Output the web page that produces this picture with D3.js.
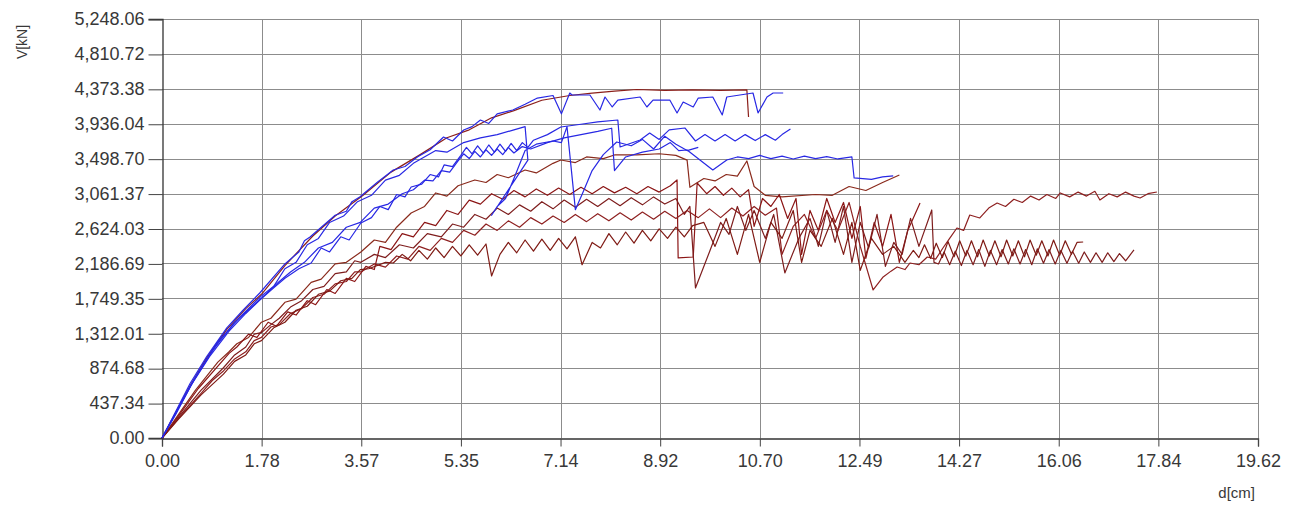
<!DOCTYPE html>
<html><head><meta charset="utf-8">
<script src="https://cdn.jsdelivr.net/npm/d3@7"></script>
<style>body{margin:0;background:#fff}</style>
</head><body><svg id="c" width="1300" height="506"></svg>
<script>
const xTicks = [0,1.7836,3.5673,5.3509,7.1345,8.9182,10.7018,12.4855,14.2691,16.0527,17.8364,19.62];
const xTickLabels = ["0.00","1.78","3.57","5.35","7.14","8.92","10.70","12.49","14.27","16.06","17.84","19.62"];
const yTicks = [0,437.34,874.68,1312.01,1749.35,2186.69,2624.03,3061.37,3498.70,3936.04,4373.38,4810.72,5248.06];
const yTickLabels = ["0.00","437.34","874.68","1,312.01","1,749.35","2,186.69","2,624.03","3,061.37","3,498.70","3,936.04","4,373.38","4,810.72","5,248.06"];
const xTitle = "d[cm]";
const yTitle = "V[kN]";

// blue curves [d (cm), V (kN)]
const blue1 = [[0,0],[0.2,270],[0.5,680],[0.8,1020],[1.16,1380],[1.45,1600],[1.75,1816],[2.2,2180],[2.45,2330],[2.55,2470],[2.65,2517],[3.1,2790],[3.3,2840],[3.4,2960],[3.54,3018],[3.85,3200],[4.14,3357],[4.35,3400],[4.57,3520],[4.8,3610],[5.04,3770],[5.2,3720],[5.4,3858],[5.55,3900],[5.7,3983],[5.85,3940],[6.0,4060],[6.28,4108],[6.5,4180],[6.72,4258],[7.0,4290],[7.15,4060],[7.3,4321],[7.34,4296],[7.66,4296],[7.84,4108],[7.93,4271],[8.06,4146],[8.16,4233],[8.56,4271],[8.68,4146],[8.79,4233],[9.09,4233],[9.22,4071],[9.33,4208],[9.51,4146],[9.6,4258],[9.86,4271],[10.03,4046],[10.11,4271],[10.58,4321],[10.67,4071],[10.83,4271],[10.94,4321],[11.12,4321]];
const blue2 = [[0,0],[0.2,250],[0.5,640],[0.85,1020],[1.2,1340],[1.5,1560],[1.75,1728],[2.0,1880],[2.2,2000],[2.45,2120],[2.67,2192],[2.85,2380],[3.0,2330],[3.2,2520],[3.35,2480],[3.56,2693],[3.75,2760],[3.9,2900],[4.05,2860],[4.2,3050],[4.35,3020],[4.46,3144],[4.65,3180],[4.8,3300],[4.95,3270],[5.05,3420],[5.2,3400],[5.35,3540],[5.45,3640],[5.55,3560],[5.65,3660],[5.75,3570],[5.85,3670],[5.95,3580],[6.05,3680],[6.15,3590],[6.25,3690],[6.35,3600],[6.45,3700],[6.55,3640],[6.65,3730],[6.9,3800],[7.14,3895],[7.5,3930],[7.8,3960],[8.16,3983],[8.2,3645],[8.56,3732],[8.73,3820],[8.9,3740],[9.08,3860],[9.36,3883],[9.55,3720],[9.72,3800],[9.9,3720],[10.08,3800],[10.26,3720],[10.44,3800],[10.62,3725],[10.8,3800],[10.98,3730],[11.1,3800],[11.25,3870]];
const blue3 = [[0,0],[0.25,300],[0.55,700],[0.9,1090],[1.3,1450],[1.78,1750],[2.1,1960],[2.3,2080],[2.55,2200],[2.8,2380],[3.05,2450],[3.3,2640],[3.55,2700],[3.8,2880],[4.05,2930],[4.3,3060],[4.5,3110],[4.7,3230],[4.85,3220],[5.0,3350],[5.15,3330],[5.3,3470],[5.4,3560],[5.5,3500],[5.6,3590],[5.7,3520],[5.8,3610],[5.9,3540],[6.0,3620],[6.1,3550],[6.2,3640],[6.3,3570],[6.45,3650],[6.6,3620],[6.9,3700],[7.2,3760],[7.5,3800],[7.8,3840],[8.05,3880],[8.1,3350],[8.3,3520],[8.6,3580],[8.9,3620],[9.1,3700],[9.25,3600],[9.4,3607],[9.86,3357],[10.11,3482],[10.3,3520],[10.5,3500],[10.7,3540],[10.9,3500],[11.1,3530],[11.3,3495],[11.5,3530],[11.7,3500],[11.9,3525],[12.1,3495],[12.35,3520],[12.39,3257],[12.7,3240],[12.9,3270],[13.09,3282]];
const blue4 = [[0,0],[0.3,380],[0.6,760],[1.0,1200],[1.4,1520],[1.78,1780],[2.0,1900],[2.2,2120],[2.4,2200],[2.6,2420],[2.8,2500],[3.0,2700],[3.25,2780],[3.5,2960],[3.75,3040],[4.0,3230],[4.25,3290],[4.5,3440],[4.9,3600],[5.1,3580],[5.4,3700],[5.7,3760],[6.0,3800],[6.3,3860],[6.5,3900],[6.55,3480],[5.9,2790],[6.0,2900],[6.15,3000],[6.3,3250],[6.5,3600],[6.7,3680],[7.0,3720],[7.15,3700],[7.25,3900],[7.4,2860],[7.55,3100],[7.7,3350],[7.9,3550],[8.14,3707],[8.4,3660],[8.6,3740],[8.8,3620],[9.0,3780],[9.2,3680],[9.4,3600],[9.6,3640]];

// red curves
const red1 = [[0,0],[0.2,260],[0.5,650],[0.8,1000],[1.16,1360],[1.5,1620],[1.78,1800],[2.2,2160],[2.7,2530],[3.1,2780],[3.6,3040],[4.1,3330],[4.6,3540],[5.1,3760],[5.5,3860],[5.9,4010],[6.3,4100],[6.8,4230],[7.3,4290],[7.7,4320],[8.1,4345],[8.5,4365],[9.0,4355],[9.5,4360],[10.0,4355],[10.47,4360],[10.5,4020]];
const red2 = [[0,0],[0.3,300],[0.6,600],[1.0,950],[1.2,1080],[1.34,1180],[1.55,1260],[1.78,1450],[1.95,1500],[2.2,1700],[2.4,1740],[2.67,1950],[2.85,1990],[3.1,2180],[3.3,2200],[3.56,2330],[3.8,2480],[4.0,2450],[4.2,2640],[4.46,2818],[4.7,2900],[4.9,3069],[5.1,3030],[5.3,3160],[5.6,3232],[5.8,3200],[6.0,3300],[6.2,3260],[6.5,3357],[6.7,3320],[7.0,3440],[7.14,3482],[7.4,3450],[7.6,3520],[7.9,3500],[8.1,3545],[8.5,3545],[8.9,3560],[9.2,3540],[9.4,3480],[9.45,3140],[9.7,3250],[9.9,3220],[10.1,3300],[10.3,3280],[10.47,3470],[10.6,3150],[10.8,3040],[11.1,3020],[11.7,3050],[12.0,3040],[12.3,3150],[12.6,3100],[12.9,3200],[13.2,3294]];
const red3 = [[0,0],[0.3,280],[0.65,620],[1.0,900],[1.2,1060],[1.34,1140],[1.55,1300],[1.7,1260],[1.9,1450],[2.05,1400],[2.25,1580],[2.4,1540],[2.6,1720],[2.75,1670],[2.95,1860],[3.1,1810],[3.3,2000],[3.45,1960],[3.65,2150],[3.8,2110],[3.9,2400],[4.1,2360],[4.3,2560],[4.5,2520],[4.7,2700],[4.9,2660],[5.1,2850],[5.3,2800],[5.5,2980],[5.7,2930],[5.9,3060],[6.1,2990],[6.3,3100],[6.5,3020],[6.7,3120],[6.9,3040],[7.1,3130],[7.3,3050],[7.5,3140],[7.7,3060],[7.9,3150],[8.1,3070],[8.3,3140],[8.5,3060],[8.7,3150],[8.9,3080],[9.1,3160],[9.22,3232],[9.24,2255],[9.51,2267],[9.58,3194],[9.75,3060],[9.9,3150],[10.05,3040],[10.2,3130],[10.35,3020],[10.5,3110],[10.6,2650],[10.75,3000],[10.9,2900],[11.05,3050],[11.2,2750],[11.35,3000],[11.45,2300],[11.6,2850],[11.75,2600],[11.9,3000],[12.05,2700],[12.2,2950],[12.35,2500],[12.5,2900],[12.6,2250],[12.75,2700],[12.9,2400],[13.05,2800],[13.2,2200],[13.35,2600],[13.57,2943]];
const red4 = [[0,0],[0.3,260],[0.7,600],[1.1,880],[1.3,1040],[1.5,1140],[1.65,1300],[1.78,1320],[1.95,1420],[2.1,1500],[2.3,1640],[2.5,1720],[2.7,1860],[2.9,1900],[3.1,2060],[3.3,2080],[3.45,2220],[3.56,2200],[3.8,2300],[4.0,2260],[4.25,2420],[4.5,2380],[4.75,2560],[5.0,2520],[5.2,2680],[5.4,2640],[5.6,2800],[5.8,2740],[6.0,2880],[6.2,2800],[6.4,2920],[6.6,2840],[6.8,2960],[7.0,2870],[7.2,2980],[7.4,2890],[7.6,2990],[7.8,2900],[8.0,3000],[8.2,2910],[8.4,3010],[8.6,2920],[8.8,3020],[9.0,2930],[9.2,3000],[9.35,2800],[9.45,2900],[9.55,1879],[9.8,2330],[10.0,2700],[10.15,2550],[10.3,2900],[10.45,2600],[10.6,2850],[10.8,2500],[10.95,2800],[11.15,2067],[11.4,2500],[11.6,2750],[11.75,2400],[11.9,2850],[12.05,2450],[12.2,2900],[12.35,2200],[12.5,2700],[12.65,2380],[12.8,2800],[12.95,2150],[13.1,2450],[13.25,2300],[13.4,2750],[13.55,2400],[13.78,2856],[13.82,2200],[13.9,2180],[14.0,2330],[14.1,2170],[14.2,2340],[14.31,2160],[14.41,2350],[14.52,2170],[14.62,2360],[14.73,2150],[14.83,2350],[14.94,2170],[15.04,2360],[15.15,2180],[15.25,2370],[15.36,2180],[15.46,2360],[15.57,2170],[15.67,2370],[15.78,2190],[15.88,2360],[15.99,2180],[16.09,2350],[16.2,2190],[16.3,2340],[16.41,2190],[16.51,2330],[16.62,2200],[16.72,2320],[16.83,2200],[16.93,2320],[17.04,2210],[17.14,2310],[17.25,2220],[17.4,2355]];
const red5 = [[0,0],[0.3,250],[0.7,560],[0.9,720],[1.1,840],[1.3,990],[1.5,1080],[1.65,1220],[1.78,1260],[1.95,1390],[2.1,1420],[2.3,1560],[2.5,1620],[2.7,1760],[2.9,1800],[3.1,1930],[3.3,1960],[3.45,2080],[3.56,2080],[3.8,2180],[4.0,2140],[4.2,2280],[4.4,2240],[4.6,2400],[4.8,2350],[5.0,2500],[5.2,2450],[5.4,2600],[5.6,2540],[5.8,2680],[6.0,2600],[6.2,2720],[6.4,2640],[6.6,2760],[6.8,2680],[7.0,2780],[7.2,2700],[7.4,2800],[7.6,2710],[7.8,2810],[8.0,2720],[8.2,2820],[8.4,2730],[8.6,2830],[8.8,2740],[9.0,2840],[9.2,2750],[9.4,2850],[9.6,2760],[9.8,2870],[10.0,2760],[10.2,2880],[10.4,2780],[10.6,2900],[10.8,2790],[11.0,2880],[11.1,2300],[11.3,2650],[11.5,2800],[11.7,2500],[11.9,2850],[12.1,2600],[12.3,2950],[12.5,2400],[12.73,1854],[12.91,2017],[13.05,2090],[13.16,2142],[13.3,2110],[13.39,2192],[13.55,2170],[13.7,2267],[13.85,2240],[13.98,2380],[14.1,2500],[14.23,2630],[14.35,2600],[14.46,2793],[14.64,2756],[14.8,2880],[14.95,2943],[15.1,2900],[15.25,2990],[15.4,2950],[15.55,3030],[15.7,2980],[15.84,3050],[16.0,3000],[16.08,3069],[16.25,3020],[16.4,3080],[16.55,3030],[16.7,3090],[16.79,2981],[16.95,3060],[17.1,3020],[17.25,3080],[17.4,3030],[17.51,3006],[17.65,3060],[17.81,3081]];
const red6 = [[0,0],[0.3,240],[0.7,540],[1.1,800],[1.3,960],[1.5,1040],[1.65,1180],[1.78,1220],[2.0,1380],[2.2,1450],[2.4,1600],[2.6,1650],[2.8,1800],[3.0,1840],[3.2,1970],[3.4,2000],[3.55,2110],[3.7,2120],[4.0,2200],[4.14,2192],[4.3,2300],[4.45,2220],[4.6,2350],[4.75,2240],[4.9,2380],[5.05,2260],[5.2,2400],[5.35,2280],[5.5,2420],[5.65,2290],[5.8,2430],[5.9,2030],[6.05,2300],[6.2,2450],[6.35,2320],[6.5,2480],[6.65,2340],[6.8,2490],[6.95,2350],[7.1,2500],[7.25,2370],[7.4,2520],[7.52,2170],[7.7,2450],[7.85,2380],[8.0,2560],[8.15,2420],[8.3,2580],[8.45,2440],[8.6,2600],[8.75,2470],[8.9,2620],[9.05,2500],[9.2,2640],[9.35,2520],[9.5,2660],[9.7,2700],[9.9,2400],[10.1,2750],[10.3,2300],[10.5,2800],[10.7,2200],[10.9,2700],[11.1,2500],[11.3,2850],[11.45,2200],[11.6,2600],[11.8,2400],[12.0,2750],[12.2,2300],[12.35,2700],[12.5,2100],[12.7,2500],[12.9,2300],[13.1,2400],[13.3,2200],[13.45,2350],[13.55,2260],[13.65,2420],[13.76,2250],[13.86,2440],[13.97,2260],[14.07,2460],[14.18,2270],[14.28,2470],[14.39,2280],[14.49,2470],[14.6,2270],[14.7,2480],[14.81,2280],[14.91,2470],[15.02,2270],[15.12,2480],[15.23,2280],[15.33,2470],[15.44,2270],[15.54,2480],[15.65,2290],[15.75,2470],[15.86,2280],[15.96,2480],[16.07,2290],[16.17,2470],[16.28,2300],[16.38,2450],[16.49,2455]];

const blueSeries = [blue1, blue2, blue3, blue4];
const redSeries = [red1, red2, red3, red4, red5, red6];

const m = {left:162, right:1258, top:19, bottom:438};
const svg = d3.select("#c");
const x = d3.scaleLinear().domain([0, 19.62]).range([m.left, m.right]);
const y = d3.scaleLinear().domain([0, 5248.06]).range([m.bottom, m.top]);

const gridColor = "#8c8c8c";
const g = svg.append("g");
g.selectAll(".vg").data(xTicks.slice(1)).join("line")
  .attr("x1", d => Math.round(x(d)) + 0.5).attr("x2", d => Math.round(x(d)) + 0.5)
  .attr("y1", m.top).attr("y2", m.bottom)
  .attr("stroke", gridColor).attr("stroke-width", 1);
g.selectAll(".hg").data(yTicks.slice(1)).join("line")
  .attr("y1", d => Math.round(y(d)) + 0.5).attr("y2", d => Math.round(y(d)) + 0.5)
  .attr("x1", m.left).attr("x2", m.right)
  .attr("stroke", gridColor).attr("stroke-width", 1);

const fmtX = d => xTickLabels[xTicks.indexOf(d)];
const fmtY = d => yTickLabels[yTicks.indexOf(d)];
const xAxis = d3.axisBottom(x).tickValues(xTicks).tickFormat(fmtX).tickSize(8).tickPadding(8);
const yAxis = d3.axisLeft(y).tickValues(yTicks).tickFormat(fmtY).tickSize(14).tickPadding(4);
const ax = svg.append("g").attr("transform", `translate(0,${m.bottom + 0.5})`).call(xAxis);
const ay = svg.append("g").attr("transform", `translate(${m.left + 0.5},0)`).call(yAxis);
[ax, ay].forEach(a => {
  a.select(".domain").attr("stroke", "#333").attr("stroke-width", 1.3);
  a.selectAll(".tick line").attr("stroke", "#444");
  a.selectAll(".tick text").attr("fill", "#383838").attr("font-family", "Liberation Sans, Arial, sans-serif").attr("font-size", 18);
});
ay.selectAll(".tick line").attr("transform", "translate(0,0.5)");

const line = d3.line().x(d => x(d[0])).y(d => y(d[1]));
const redColors = ["#8b1f1a", "#8a2a1c", "#8b1515", "#7e1d1d", "#8e2020", "#7f1a14"];
svg.append("g").selectAll("path").data(redSeries).join("path")
  .attr("d", line).attr("fill", "none")
  .attr("stroke", (d, i) => redColors[i]).attr("stroke-width", 1.2).attr("stroke-linejoin", "round");
svg.append("g").selectAll("path").data(blueSeries).join("path")
  .attr("d", line).attr("fill", "none")
  .attr("stroke", "#2828e4").attr("stroke-width", 1.2).attr("stroke-linejoin", "round");

svg.append("text").attr("transform", "translate(27,42) rotate(-90)")
  .attr("text-anchor", "middle").attr("fill", "#383838")
  .attr("font-family", "Liberation Sans, Arial, sans-serif").attr("font-size", 14).text(yTitle);
svg.append("text").attr("x", 1255).attr("y", 498).attr("text-anchor", "end").attr("fill", "#383838")
  .attr("font-family", "Liberation Sans, Arial, sans-serif").attr("font-size", 15).text(xTitle);
</script></body></html>
